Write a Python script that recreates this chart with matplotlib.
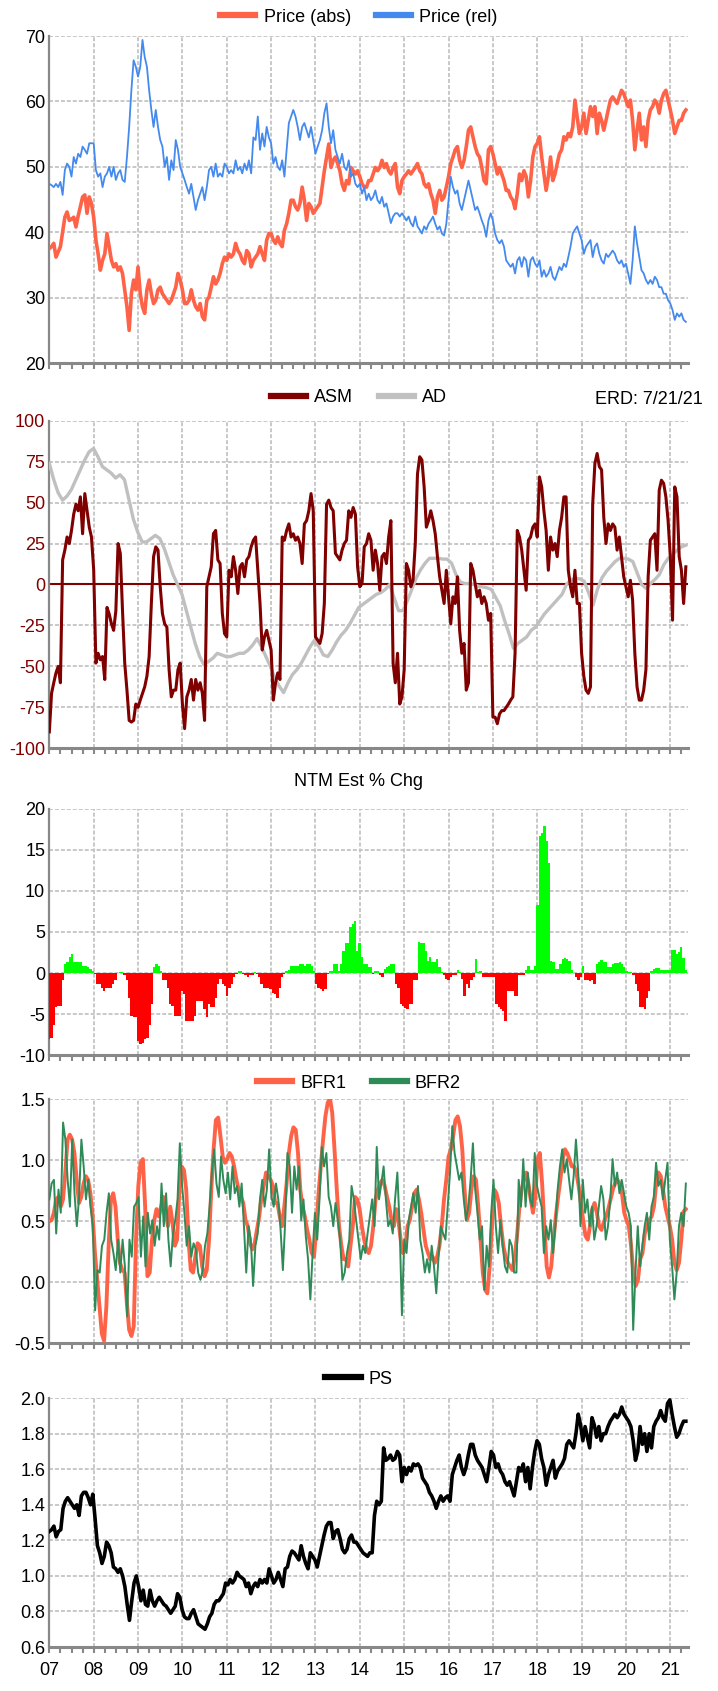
import numpy as np
import matplotlib
matplotlib.use("Agg")
import matplotlib.pyplot as plt
from matplotlib.ticker import FixedLocator

plt.rcParams['font.family'] = ['Liberation Sans', 'DejaVu Sans']
plt.rcParams['font.size'] = 13
plt.rcParams['axes.unicode_minus'] = False

# time range of the data (decimal years)
T0, T1 = 2007.0, 2021.35
year_labels = ['07', '08', '09', '10', '11', '12', '13', '14', '15', '16', '17', '18', '19', '20', '21']

# ---- panel 1: price ----
price_abs = [
    37.5, 37.8, 38.3, 36.2, 37.0, 37.8, 40.0, 42.3, 43.1, 41.8, 42.0, 42.3, 40.8, 42.5, 43.9, 45.4, 45.7, 42.9, 45.4, 44.4,
    42.3, 38.8, 36.7, 34.2, 35.7, 36.7, 39.8, 37.8, 35.7, 34.7, 35.2, 34.2, 34.7, 33.7, 31.2, 28.6, 25.0, 30.6, 32.7, 31.2,
    34.7, 30.6, 28.6, 27.6, 31.2, 32.7, 30.6, 29.1, 29.6, 31.2, 31.6, 30.6, 30.1, 29.6, 29.1, 29.6, 30.6, 31.6, 33.7, 32.7,
    31.2, 29.1, 29.1, 29.6, 31.2, 29.6, 28.6, 28.1, 29.1, 27.1, 26.6, 29.6, 30.1, 31.6, 33.2, 32.1, 32.7, 33.7, 35.2, 36.2,
    35.7, 36.7, 36.2, 36.7, 38.3, 37.2, 36.7, 35.7, 35.2, 37.2, 36.7, 34.7, 35.7, 36.2, 36.7, 37.8, 36.7, 35.7, 38.8, 39.8,
    39.8, 38.8, 38.3, 39.3, 38.3, 37.8, 40.3, 41.3, 42.9, 44.9, 44.9, 43.9, 43.4, 44.4, 46.9, 44.9, 41.8, 44.4, 43.9, 42.9,
    43.4, 43.9, 44.4, 46.9, 49.4, 51.5, 53.5, 49.9, 51.0, 51.5, 50.5, 49.4, 47.4, 46.4, 47.9, 47.4, 49.9, 49.4, 48.9, 49.4,
    48.5, 47.4, 46.9, 46.9, 47.9, 47.9, 48.9, 49.9, 49.4, 49.9, 51.0, 49.9, 50.5, 49.4, 48.9, 49.9, 50.5, 46.9, 45.9, 47.9,
    48.5, 48.9, 49.4, 48.9, 49.4, 49.9, 50.5, 49.4, 48.9, 47.4, 46.9, 47.4, 45.9, 44.9, 42.9, 45.4, 46.4, 44.9, 45.4, 46.9,
    48.5, 50.5, 51.5, 52.6, 53.1, 51.0, 49.9, 51.0, 53.1, 55.6, 56.1, 54.6, 53.1, 52.0, 51.5, 49.9, 47.9, 47.4, 52.6, 53.1,
    52.0, 50.5, 48.9, 49.9, 48.9, 47.9, 46.4, 46.4, 45.4, 44.9, 43.6, 45.9, 48.9, 47.9, 49.4, 48.5, 45.4, 47.9, 51.5, 53.1,
    53.6, 54.6, 51.5, 48.9, 46.4, 48.5, 51.5, 47.9, 48.9, 50.5, 52.0, 52.6, 54.6, 54.1, 55.1, 54.6, 56.1, 60.2, 57.7, 55.1,
    56.1, 58.2, 55.1, 57.1, 59.2, 57.7, 59.2, 55.1, 58.2, 57.1, 55.6, 57.1, 58.7, 60.2, 60.7, 60.2, 59.7, 60.7, 61.7, 61.2,
    60.2, 59.2, 60.2, 57.1, 52.6, 55.6, 58.2, 54.1, 56.1, 53.1, 57.1, 58.7, 59.2, 60.2, 59.7, 58.2, 60.2, 61.2, 61.7, 60.2,
    58.7, 57.1, 55.1, 56.1, 57.1, 57.1, 58.2, 58.7]
price_rel = [
    47.4, 47.2, 46.9, 47.4, 46.9, 47.7, 45.7, 49.5, 50.5, 50.0, 48.5, 51.5, 50.5, 52.0, 51.5, 53.1, 52.6, 52.0, 53.6, 53.6,
    53.6, 49.5, 48.5, 49.0, 46.9, 48.5, 49.0, 50.0, 48.5, 50.0, 48.0, 49.0, 49.5, 48.0, 47.7, 51.5, 56.1, 61.7, 66.3, 65.3,
    63.8, 65.3, 69.4, 66.8, 65.3, 61.7, 58.7, 56.1, 58.7, 56.1, 54.1, 53.1, 50.0, 51.5, 48.0, 51.0, 49.5, 54.1, 52.6, 50.0,
    49.0, 48.0, 46.9, 45.9, 47.4, 45.4, 43.4, 44.9, 45.9, 46.9, 44.9, 46.9, 49.5, 50.0, 48.5, 50.5, 48.5, 49.0, 48.5, 50.5,
    50.0, 49.0, 49.5, 49.0, 51.0, 49.5, 50.0, 49.0, 50.5, 49.5, 51.0, 49.0, 54.5, 54.1, 57.7, 52.6, 55.1, 53.1, 56.1, 54.5,
    53.6, 50.5, 51.5, 50.0, 49.5, 51.0, 48.5, 52.6, 56.7, 57.7, 58.7, 57.7, 56.1, 54.1, 56.1, 56.7, 55.6, 54.5, 56.1, 54.1,
    52.0, 53.1, 54.1, 55.6, 58.2, 59.7, 56.1, 53.6, 55.6, 52.6, 51.5, 50.5, 52.0, 50.0, 49.5, 51.0, 48.5, 49.0, 47.4, 46.9,
    47.4, 45.9, 46.9, 44.9, 45.9, 44.9, 45.4, 46.4, 44.9, 44.4, 45.4, 43.9, 44.4, 42.9, 41.4, 42.4, 42.9, 42.9, 42.4, 42.9,
    42.4, 41.8, 42.4, 41.4, 40.9, 42.4, 40.9, 40.4, 39.8, 40.9, 40.4, 41.3, 41.8, 42.4, 41.3, 40.4, 40.9, 39.8, 39.5, 41.3,
    44.9, 48.5, 46.9, 45.9, 46.4, 44.4, 43.4, 44.9, 46.4, 47.9, 46.4, 44.9, 43.4, 43.9, 42.9, 41.8, 40.9, 39.3, 41.8, 42.9,
    41.8, 39.8, 38.8, 38.3, 38.8, 37.8, 35.7, 35.2, 34.7, 35.2, 33.7, 35.7, 36.2, 34.7, 36.2, 35.7, 33.2, 35.7, 36.2, 35.2,
    34.7, 35.7, 33.2, 34.2, 33.2, 33.7, 34.7, 33.2, 32.7, 33.7, 34.7, 34.2, 35.2, 34.7, 36.2, 37.8, 39.8, 40.4, 40.9, 39.8,
    38.8, 36.7, 37.8, 38.3, 38.8, 36.2, 37.8, 38.3, 36.7, 35.7, 35.2, 36.7, 36.2, 36.7, 37.2, 36.7, 35.7, 35.2, 35.7, 34.7,
    35.2, 33.7, 32.1, 35.7, 40.9, 38.3, 36.2, 34.2, 33.7, 32.7, 32.1, 32.7, 32.1, 33.2, 32.7, 31.6, 31.6, 30.6, 30.6, 29.6,
    29.1, 28.1, 26.6, 27.6, 27.1, 27.6, 26.6, 26.3]

# ---- panel 2: ASM / AD ----
asm = [
    -90, -66.5, -60, -54, -50, -60, 15, 21, 29, 25, 33, 43, 49, 45, 53.5, 31, 55.5, 45, 35, 29,
    9, -48, -42, -46, -44, -58, -14, -18, -24, -28, -16, 25, 19, -16, -48, -64.5, -83, -84, -83, -73,
    -75, -70.6, -66.5, -62.5, -56, -44, -11.6, 17, 23, 21, -1.4, -17.7, -24, -26, -52, -68.6, -64.5, -64.5, -52, -48,
    -73, -88, -68.6, -64.5, -58, -70.6, -58, -64.5, -60, -66.5, -83, -1.4, 4.7, 10.8, 31, 33, 15, 12.8, -17.7, -30,
    -32, 8.7, 4.7, 17, 8.7, -5.5, 10.8, 12.8, 4.7, 15, 17, 23, 27, 29, 8.7, -11.6, -40, -32, -28, -34,
    -40, -70.6, -60, -54, -58, 29, 27, 33, 37, 29, 31, 27, 29, 25, 12.8, 37, 39, 45, 55.5, 45,
    -32, -34, -36, -30, -11.6, 49, 51.5, 47, 45, 19, 17, 15, 21, 25, 27, 45, 41, 47, 43, 10.8,
    -1.4, 0.6, 23, 25, 31, 27, 8.7, 21, 12.8, -3.5, 17, 19, 12.8, 29, 39, -48, -60, -42, -73, -68.6,
    -52, 12.8, 8.7, -1.4, 2.6, 25, 67.5, 78, 76, 59.6, 35, 39, 45, 39, 31, 17, 4.7, -3.5, -11.6, 8.7,
    -7.5, -24, -7.5, -11.6, 4.7, -28, -42, -36, -64.5, -60, 12.8, 8.7, 0.6, -7.5, -3.5, -11.6, -7.5, -11.6, -21.8, -17.7,
    -81, -81, -85, -79, -77, -77, -75, -73, -70.6, -68.6, -42, 33, 29, 21, 8.7, -3.5, 27, 29, 35, 37,
    29, 65.7, 59.6, 45, 33, 8.7, 29, 21, 25, 17, 33, 41, 53.5, 53.5, 8.7, -1.4, -7.5, 8.7, -11.6, -11.6,
    -42, -56, -64.5, -66.5, -62.5, 49, 74, 80, 72, 70, 41, 25, 37, 33, 37, 35, 21, 29, 17, 4.7,
    -1.4, -7.5, 2.6, -9.6, -42, -62.5, -70.6, -70.6, -64.5, -52, 4.7, 27, 29, 31, 8.7, 57.6, 63.7, 61.7, 53.5, 39,
    17, -21.8, 59.6, 53.5, 17, 8.7, -11.6, 10.8]
ad = [
    74, 64, 56, 51.5, 54, 58, 64, 70, 76, 81,
    83, 78, 72, 70, 68, 65, 67, 64, 52, 40,
    32, 26, 26, 28, 30, 28, 22, 14, 6, 0,
    -6, -16, -26, -36, -44, -49, -47, -45, -42, -43,
    -44, -44, -43, -42, -42, -40, -37, -33, -38, -44,
    -50, -57, -62, -66, -60, -55, -52, -48, -43, -38,
    -34, -38, -43, -44, -40, -35, -31, -28, -24, -19,
    -14, -12, -10, -8, -6, -5, -3, 0, -8, -16,
    -16, -10, -3, 4, 9, 13, 16, 16, 16, 15.5,
    15.5, 13, 6, 1.5, 0.6, 0.6, 0, -1, -1.5, -2,
    -3, -8, -13, -22, -30, -39, -36, -34, -32, -28,
    -26, -22, -18, -15, -12, -9, -6, 0, 3, 3.7,
    3.5, 2, -5, -12.6, -3, 4, 8, 11, 14, 16,
    16, 15.5, 14, 7, 0, -2.4, 0.6, 3, 6, 12,
    16, 18, 21, 23, 24]

# ---- panel 3: NTM estimate % change ----
ntm_chg = [
    -8.1, -7.9, -6.3, -4.2, -4.0, -4.0, -0.9, 1.1, 1.3, 1.9, 2.3, 1.4, 1.3, 1.3, 1.3, 0.9, 0.9, 0.7, 0.5, 0.3,
    -0.1, -1.4, -1.4, -1.8, -2.2, -1.8, -1.8, -1.8, -1.4, -0.9, -0.05, 0.1, 0.1, -0.3, -0.9, -3.0, -5.2, -5.4, -5.4, -8.3,
    -8.7, -8.5, -8.1, -7.9, -6.3, -3.8, 0.7, 1.1, 0.9, 0.3, -0.9, -0.9, -1.8, -3.8, -4.0, -5.2, -5.2, -5.2, -2.2, -2.6,
    -5.9, -5.9, -5.9, -5.9, -5.2, -3.4, -3.4, -3.4, -4.4, -5.4, -3.8, -4.2, -4.2, -3.0, -1.4, -0.7, -1.4, -1.6, -2.8, -1.8,
    -1.4, -0.5, -0.1, 0.3, 0.2, -0.1, -0.3, -0.5, -0.2, -0.2, 0.1, -0.1, -0.5, -1.4, -1.8, -1.8, -1.8, -2.0, -2.4, -2.6,
    -3.0, -1.8, -0.5, -0.1, 0.2, 0.4, 0.9, 0.9, 0.9, 0.9, 1.1, 1.1, 0.9, 1.1, 1.1, 0.9, 0.3, -1.4, -1.8, -2.0,
    -2.2, -2.0, -0.1, 0.3, 0.3, 1.1, 1.1, 0.3, 1.1, 2.7, 3.6, 3.6, 5.6, 6.0, 6.4, 2.7, 3.6, 1.9, 1.1, 1.1,
    0.7, 0.7, -0.1, 0.3, 0.3, -0.3, -0.5, 0.5, 0.7, 0.9, 1.1, 1.1, -1.4, -1.8, -3.8, -4.0, -4.3, -4.4, -3.8, -3.8,
    -0.9, -0.9, 3.8, 3.6, 3.6, 2.7, 1.5, 1.9, 1.3, 1.3, 1.7, 0.7, 0.1, -0.2, -0.7, -0.9, -0.5, -0.3, -0.2, 0.4,
    0.1, -0.7, -2.8, -1.4, -1.8, -0.9, -0.5, 1.7, 0.1, 0.3, -0.5, -0.5, -0.5, -0.5, -0.5, -0.5, -3.8, -4.2, -4.4, -4.6,
    -5.9, -2.2, -2.2, -2.2, -2.8, -2.8, -0.3, -0.3, -0.3, 0.4, 0.8, 0.4, 0.4, 0.9, 8.3, 16.7, 17.1, 17.9, 16.1, 13.4,
    1.5, 1.3, 0.5, 0.5, 1.1, 1.7, 1.8, 1.7, 1.5, 0.4, -0.05, -0.5, -0.9, -0.5, 0.9, -0.9, -0.9, -1.0, -0.9, -1.3,
    1.1, 1.3, 1.6, 1.3, 1.3, 0.7, 0.7, 1.1, 1.2, 1.2, 1.3, 1.1, 0.7, 0.3, 0.1, 0.1, -0.3, -1.4, -2.2, -4.2,
    -4.2, -4.4, -3.0, -2.2, 0.3, 0.5, 0.6, 0.6, 0.4, 0.4, 0.4, 0.4, 0.4, 2.8, 2.8, 2.3, 2.5, 3.2, 1.8, 0.4]

# ---- panel 4: BFR ----
bfr1 = [
    0.50, 0.51, 0.57, 0.68, 0.70, 0.62, 0.68, 0.90, 1.17, 1.21, 1.17, 1.06, 0.84, 0.65, 0.70, 0.81, 0.87, 0.84, 0.73, 0.54,
    0.24, 0.02, -0.20, -0.42, -0.48, -0.20, 0.30, 0.68, 0.73, 0.62, 0.35, 0.16, 0.10, 0.08, -0.17, -0.39, -0.44, -0.36, 0.35, 0.79,
    0.98, 1.01, 0.62, 0.05, 0.08, 0.35, 0.51, 0.60, 0.54, 0.62, 0.70, 0.57, 0.46, 0.62, 0.49, 0.30, 0.35, 0.76, 0.95, 0.92,
    0.76, 0.35, 0.10, 0.08, 0.21, 0.32, 0.30, 0.13, 0.05, 0.10, 0.35, 0.76, 1.09, 1.33, 1.35, 1.20, 1.03, 0.98, 1.01, 1.06,
    1.03, 0.95, 0.84, 0.76, 0.70, 0.65, 0.51, 0.46, 0.32, 0.27, 0.32, 0.43, 0.54, 0.70, 0.79, 0.90, 0.87, 0.84, 0.79, 0.65,
    0.65, 0.54, 0.46, 0.62, 0.81, 1.06, 1.20, 1.27, 1.25, 1.06, 0.76, 0.62, 0.54, 0.43, 0.35, 0.24, 0.21, 0.43, 0.73, 0.95,
    1.17, 1.36, 1.47, 1.51, 1.39, 1.09, 0.76, 0.46, 0.30, 0.19, 0.19, 0.13, 0.30, 0.46, 0.70, 0.68, 0.60, 0.46, 0.35, 0.27,
    0.24, 0.30, 0.46, 0.68, 0.76, 0.81, 0.84, 0.79, 0.70, 0.62, 0.51, 0.46, 0.60, 0.51, 0.35, 0.24, 0.27, 0.46, 0.51, 0.62,
    0.73, 0.76, 0.68, 0.57, 0.43, 0.30, 0.24, 0.19, 0.21, 0.16, 0.21, 0.30, 0.46, 0.68, 0.84, 1.03, 1.09, 1.20, 1.33, 1.36,
    1.28, 1.09, 0.76, 0.51, 0.57, 0.76, 0.87, 0.84, 0.62, 0.35, 0.08, -0.06, -0.09, 0.13, 0.46, 0.76, 0.73, 0.65, 0.46, 0.30,
    0.21, 0.16, 0.13, 0.10, 0.21, 0.38, 0.60, 0.76, 0.84, 0.90, 0.81, 0.68, 0.57, 0.70, 1.01, 1.06, 0.81, 0.46, 0.13, 0.04,
    0.13, 0.35, 0.54, 0.70, 0.84, 1.01, 1.09, 1.06, 1.01, 0.95, 0.95, 0.90, 0.79, 0.65, 0.51, 0.38, 0.35, 0.46, 0.60, 0.65,
    0.57, 0.46, 0.43, 0.49, 0.54, 0.60, 0.68, 0.76, 0.81, 0.84, 0.81, 0.73, 0.57, 0.51, 0.46, 0.30, 0.08, -0.03, 0.02, 0.19,
    0.24, 0.40, 0.46, 0.51, 0.54, 0.62, 0.81, 0.90, 0.87, 0.76, 0.62, 0.54, 0.46, 0.35, 0.16, 0.10, 0.16, 0.35, 0.58, 0.60]
bfr2 = [
    0.68, 0.81, 0.84, 0.40, 0.76, 0.57, 1.31, 1.17, 0.84, 0.62, 1.17, 0.73, 0.46, 0.70, 1.17, 0.95, 0.68, 0.84, 0.62, 0.46,
    -0.23, 0.10, 0.08, 0.30, 0.35, 0.57, 0.73, 0.35, 0.24, 0.10, 0.35, 0.08, 0.35, 0.13, -0.28, 0.35, 0.21, 0.62, 0.65, 0.70,
    0.21, 0.54, 0.13, 0.57, 0.40, 0.51, 0.30, 0.46, 0.35, 0.81, 0.46, 0.73, 0.35, 0.13, 0.40, 0.51, 0.68, 1.14, 0.79, 0.57,
    0.30, 0.46, 0.21, 0.32, 0.27, 0.08, 0.02, 0.10, 0.30, 0.40, 0.62, 0.90, 1.09, 0.81, 0.70, 1.03, 0.84, 0.73, 0.90, 0.68,
    0.95, 0.73, 0.79, 0.62, 0.81, 0.46, 0.08, 0.46, 0.35, -0.03, 0.30, 0.40, 0.68, 0.84, 0.62, 0.76, 1.09, 0.70, 0.62, 0.81,
    0.68, 0.43, 0.10, 0.49, 1.06, 0.95, 0.57, 0.95, 0.76, 0.95, 0.51, 0.68, 0.38, 0.19, -0.14, 0.24, 0.57, 0.35, 0.68, 1.11,
    0.95, 1.06, 0.70, 0.62, 0.46, 0.65, 0.51, 0.35, 0.02, 0.08, 0.24, 0.35, 0.79, 0.68, 0.51, 0.35, 0.19, 0.30, 0.24, 0.40,
    0.54, 0.68, 0.46, 1.11, 0.68, 0.81, 0.95, 0.68, 0.46, 0.51, 0.40, 0.68, 0.90, 0.46, -0.27, 0.35, 0.24, 0.51, 0.62, 0.73,
    0.57, 0.79, 0.35, 0.24, 0.08, 0.19, 0.08, 0.30, 0.13, -0.09, 0.21, 0.46, 0.40, 0.35, 0.62, 0.90, 1.28, 1.06, 0.95, 0.84,
    0.90, 0.68, 0.51, 0.62, 0.84, 1.14, 0.76, 0.57, 0.35, 0.46, -0.06, 0.30, 0.13, 0.57, 0.84, 0.46, 0.24, 0.51, 0.30, 0.13,
    0.08, 0.35, 0.30, 0.08, 0.08, 0.84, 0.62, 1.01, 0.62, 0.90, 0.68, 0.62, 1.06, 0.79, 0.70, 0.62, 0.24, 0.46, 0.35, 0.51,
    0.24, 0.46, 0.76, 0.95, 1.09, 0.90, 1.01, 0.84, 0.68, 0.87, 1.17, 0.90, 0.46, 0.84, 0.57, 0.68, 0.46, 0.62, 0.35, 0.46,
    0.62, 0.79, 0.68, 0.35, 0.46, 0.68, 1.01, 0.79, 0.90, 0.73, 0.84, 0.73, 0.62, 0.57, 0.46, -0.39, 0.08, 0.46, 0.13, 0.30,
    0.46, 0.57, 0.35, 0.62, 0.70, 0.98, 0.79, 0.84, 0.68, 0.84, 0.98, 0.35, 0.13, -0.14, 0.08, 0.46, 0.57, 0.46, 0.81]

# ---- panel 5: PS ----
ps = [
    1.25, 1.26, 1.28, 1.22, 1.25, 1.26, 1.38, 1.42, 1.44, 1.42, 1.40, 1.38, 1.40, 1.34, 1.45, 1.47, 1.47, 1.44, 1.40, 1.46,
    1.32, 1.17, 1.13, 1.07, 1.11, 1.19, 1.17, 1.13, 1.05, 1.04, 1.02, 1.04, 1.00, 0.94, 0.84, 0.75, 0.86, 0.96, 1.00, 0.94,
    0.86, 0.92, 0.84, 0.83, 0.92, 0.86, 0.83, 0.86, 0.88, 0.86, 0.84, 0.83, 0.81, 0.79, 0.81, 0.83, 0.90, 0.88, 0.81, 0.77,
    0.76, 0.76, 0.79, 0.81, 0.77, 0.73, 0.72, 0.71, 0.70, 0.73, 0.77, 0.79, 0.84, 0.86, 0.86, 0.88, 0.90, 0.96, 0.95, 0.98,
    0.96, 0.98, 1.02, 1.00, 0.99, 0.98, 0.94, 0.96, 0.90, 0.94, 0.96, 0.94, 0.98, 0.96, 0.98, 0.96, 1.04, 1.00, 0.96, 0.98,
    1.02, 0.98, 0.94, 1.04, 1.05, 1.11, 1.14, 1.13, 1.11, 1.09, 1.17, 1.11, 1.07, 1.04, 1.13, 1.11, 1.09, 1.05, 1.11, 1.17,
    1.23, 1.28, 1.30, 1.30, 1.21, 1.25, 1.26, 1.21, 1.15, 1.13, 1.15, 1.21, 1.23, 1.19, 1.19, 1.17, 1.15, 1.13, 1.12, 1.11,
    1.13, 1.13, 1.34, 1.42, 1.40, 1.42, 1.72, 1.65, 1.66, 1.68, 1.65, 1.66, 1.70, 1.68, 1.53, 1.61, 1.57, 1.61, 1.59, 1.63,
    1.62, 1.63, 1.61, 1.55, 1.53, 1.51, 1.47, 1.45, 1.42, 1.38, 1.42, 1.45, 1.42, 1.44, 1.45, 1.42, 1.57, 1.61, 1.65, 1.68,
    1.61, 1.57, 1.61, 1.68, 1.74, 1.74, 1.68, 1.65, 1.63, 1.61, 1.57, 1.53, 1.61, 1.70, 1.68, 1.61, 1.63, 1.59, 1.57, 1.53,
    1.51, 1.53, 1.49, 1.45, 1.53, 1.61, 1.59, 1.63, 1.53, 1.61, 1.49, 1.61, 1.70, 1.76, 1.74, 1.66, 1.61, 1.51, 1.57, 1.61,
    1.65, 1.55, 1.59, 1.61, 1.63, 1.66, 1.74, 1.76, 1.74, 1.72, 1.80, 1.91, 1.85, 1.76, 1.84, 1.78, 1.72, 1.89, 1.85, 1.78,
    1.84, 1.76, 1.80, 1.80, 1.84, 1.87, 1.89, 1.91, 1.89, 1.91, 1.95, 1.91, 1.89, 1.87, 1.84, 1.76, 1.65, 1.70, 1.84, 1.74,
    1.80, 1.70, 1.80, 1.72, 1.84, 1.87, 1.89, 1.93, 1.89, 1.87, 1.97, 1.99, 1.91, 1.84, 1.78, 1.80, 1.84, 1.87, 1.87]


def dates(values):
    return np.linspace(T0, T1, len(values))


fig = plt.figure(figsize=(7.18, 16.91), dpi=100)
L, W = 0.0687, 0.8896
ax1 = fig.add_axes([L, 0.7853, W, 0.1934])
ax2 = fig.add_axes([L, 0.5575, W, 0.1937])
ax3 = fig.add_axes([L, 0.3761, W, 0.1455])
ax4 = fig.add_axes([L, 0.2056, W, 0.1443])
ax5 = fig.add_axes([L, 0.0260, W, 0.1472])

GRID = '#c4c4c4'
SPINE = '#888888'


def style(ax, yticks, fmt, last=False, ycolor='black'):
    ax.set_xlim(2007.0, 2021.40)
    ax.set_ylim(yticks[0], yticks[-1])
    ax.set_yticks(yticks)
    ax.set_yticklabels([fmt.format(v) for v in yticks], color=ycolor)
    ax.xaxis.set_major_locator(FixedLocator(np.arange(2007, 2022)))
    ax.xaxis.set_minor_locator(FixedLocator(np.arange(2007, 2021.5, 0.25)))
    if last:
        ax.set_xticklabels(year_labels)
    else:
        ax.set_xticklabels([])
    for s in ['top', 'right']:
        ax.spines[s].set_visible(False)
    ax.spines['left'].set_color(SPINE)
    ax.spines['left'].set_linewidth(1.6)
    ax.spines['bottom'].set_color(SPINE)
    ax.spines['bottom'].set_linewidth(2.2)
    ax.grid(True, which='major', color=GRID, linestyle=(0, (2.2, 1.1)), linewidth=1.3)
    ax.tick_params(axis='x', which='both', direction='out', length=4.5, width=1.5, color=SPINE, pad=6)
    ax.tick_params(axis='y', length=0, pad=3)
    ax.set_axisbelow(True)


def top_legend(ax, y_px, **kw):
    leg = ax.legend(loc='center', bbox_to_anchor=(0.5, 1 - y_px / 1691), bbox_transform=fig.transFigure,
                    ncol=2, frameon=False, handlelength=1.95, handletextpad=0.45, columnspacing=1.4,
                    borderaxespad=0, **kw)
    for h in leg.legend_handles:
        h.set_linewidth(4.5)
    return leg


# panel 1
ax1.plot(dates(price_abs), price_abs, color='#FF6347', lw=2.6, label='Price (abs)', zorder=3)
ax1.plot(dates(price_rel), price_rel, color='#448AEE', lw=1.3, label='Price (rel)', zorder=4)
style(ax1, [20, 30, 40, 50, 60, 70], '{:.0f}')
top_legend(ax1, 17)

# panel 2
ax2.axhline(0, color='#800000', lw=1.5, zorder=2)
ax2.plot(dates(ad), ad, color='#C0C0C0', lw=2.4, label='AD', zorder=3)
ax2.plot(dates(asm), asm, color='#800000', lw=2.2, label='ASM', zorder=4)
style(ax2, [-100, -75, -50, -25, 0, 25, 50, 75, 100], '{:.0f}', ycolor='#800000')
h, lab = ax2.get_legend_handles_labels()
top_legend(ax2, 398, handles=h[::-1], labels=lab[::-1])
fig.text(703 / 718, 1 - 400 / 1691, 'ERD: 7/21/21', ha='right', va='center')

# panel 3
chg = np.array(ntm_chg)
bar_w = (T1 - T0) / (len(chg) - 1)
ax3.bar(dates(ntm_chg), chg, width=bar_w, color=np.where(chg >= 0, '#00FF00', '#FF0000'), linewidth=0, zorder=3)
style(ax3, [-10, -5, 0, 5, 10, 15, 20], '{:.0f}')
fig.text(0.5, 1 - 781 / 1691, 'NTM Est % Chg', ha='center', va='center')

# panel 4
ax4.plot(dates(bfr1), bfr1, color='#FF6347', lw=2.8, label='BFR1', zorder=3)
ax4.plot(dates(bfr2), bfr2, color='#2E8B57', lw=1.4, label='BFR2', zorder=4)
style(ax4, [-0.5, 0.0, 0.5, 1.0, 1.5], '{:.1f}')
top_legend(ax4, 1083)

# panel 5
ax5.plot(dates(ps), ps, color='black', lw=2.6, label='PS', zorder=3)
style(ax5, [0.6, 0.8, 1.0, 1.2, 1.4, 1.6, 1.8, 2.0], '{:.1f}', last=True)
top_legend(ax5, 1379)

fig.savefig('out.png', dpi=100)
